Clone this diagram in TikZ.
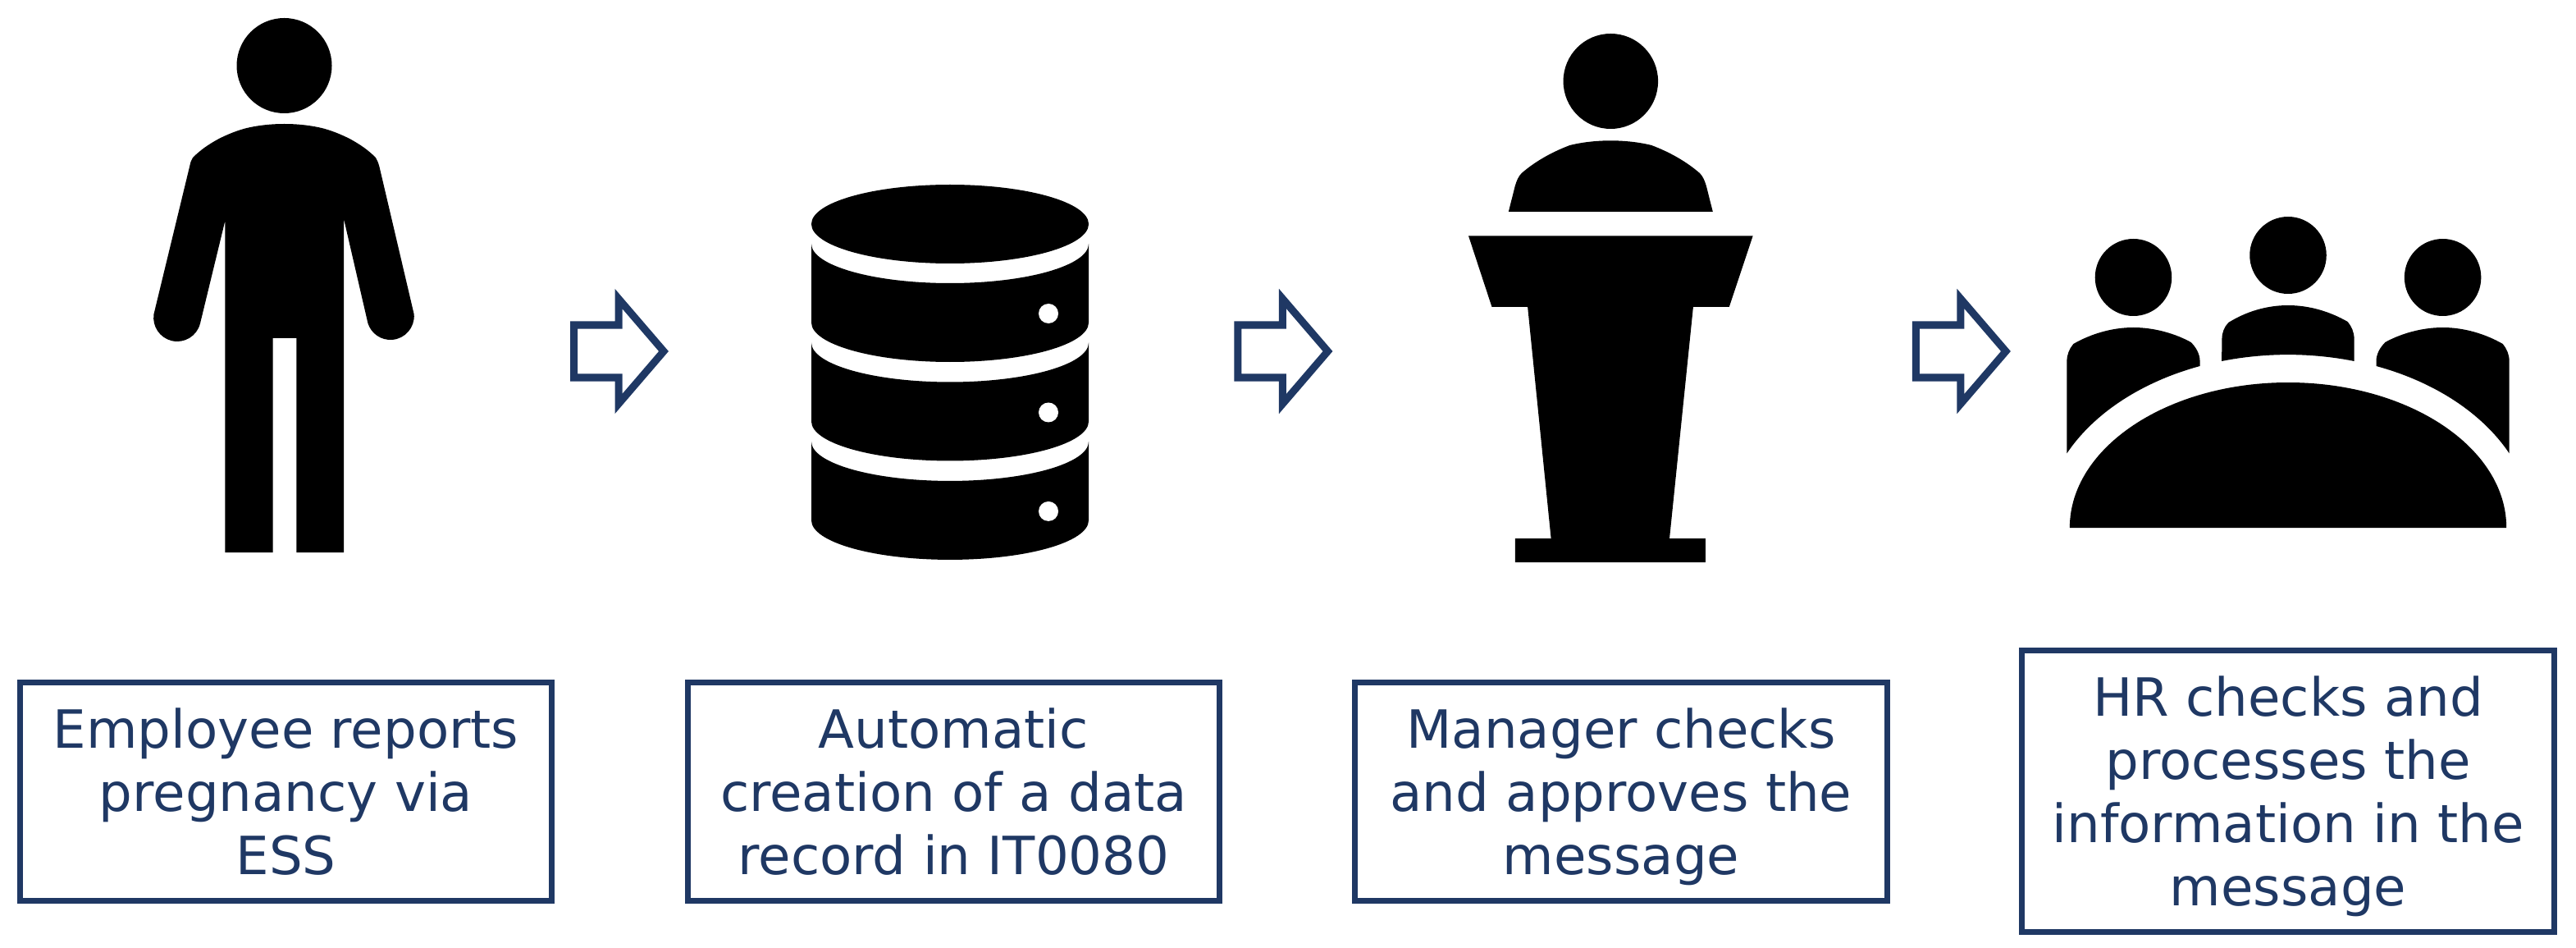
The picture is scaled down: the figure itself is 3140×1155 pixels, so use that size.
\documentclass[tikz,border=0pt]{standalone}
\usepackage{fontspec}
\setmainfont{DejaVu Sans}
\usetikzlibrary{calc}
\definecolor{navy}{HTML}{1F3864}
\newcommand{\firstline}{\rule{0pt}{20.45pt}}
\tikzset{
    msgbox/.style={draw=navy, line width=0.07cm, text=navy, align=center, inner sep=0pt,
        minimum width=6.48cm, minimum height=2.655cm,
        font=\fontsize{18.25pt}{21.9pt}\selectfont},
    flowarrow/.style={draw=navy, line width=0.09cm, miter limit=10},
    icon/.style={fill=black}
}
\begin{document}
\begin{tikzpicture}[x=0.01cm, y=-0.01cm]
    \useasboundingbox (0,0) rectangle (3140,1155);
    % standing figure
    \fill[icon] (346.5,80) circle[radius=58];
    \begin{scope}[xshift=3.465cm, xscale=0.995, xshift=-3.47cm]
    \fill[icon] (347,151) .. controls (365,151) and (380,153) .. (393,156) .. controls (405,159) and (417,164) .. (427,169)
        .. controls (440,176) and (450,183) .. (459,192) .. controls (461,195) and (462,198) .. (463.5,203)
        -- (506,383) arc[start angle=-4, end angle=162, radius=29] -- (420,267) -- (420,673) -- (362,673) -- (362,412)
        -- (333,412) -- (333,673) -- (274.5,673) -- (274.5,269) -- (244,394) arc[start angle=14, end angle=188, radius=29]
        -- (231,203) .. controls (232,198) and (233,195) .. (235,192) .. controls (244,183) and (254,176) .. (267,169)
        .. controls (277,164) and (289,159) .. (301,156) .. controls (314,153) and (329,151) .. (347,151) -- cycle;
    \end{scope}
    % database
    \def \rx {169}
    \def \ry {48}
    \fill[icon] (1158,273) ellipse[x radius=\rx, y radius=\ry];
    \foreach \s in {0,1,2}{
    \begin{scope}[yshift={-\s*1.204cm}]
        \fill[icon] (989,297) arc[start angle=180, end angle=0, x radius=\rx, y radius=\ry]
            -- (1327,393) arc[start angle=0, end angle=180, x radius=\rx, y radius=\ry] -- cycle;
        \fill[white] (1278,382) circle[radius=12];
    \end{scope}}
    % speaker at the lectern
    \begin{scope}[xshift=19.633cm, xscale=0.996, xshift=-19.66cm]
    \fill[icon] (1966,99) circle[radius=58];
    \fill[icon] (1841,258) -- (1849,226.5) .. controls (1851,220) and (1853,215) .. (1857,211)
        .. controls (1872,198) and (1892,186) .. (1916,177) .. controls (1932,173) and (1950,171.3) .. (1966,171.3)
        .. controls (1982,171.3) and (2000,173) .. (2016,177) .. controls (2040,186) and (2060,198) .. (2075,211)
        .. controls (2079,215) and (2081,220) .. (2083,226.5) -- (2091,258) -- cycle;
    \fill[icon] (1792,287.4) -- (2140,287.4) -- (2111,374) -- (2067,374) -- (2038,656) -- (2082,656) -- (2082,685)
        -- (1849,685) -- (1849,656) -- (1893,656) -- (1864.4,374) -- (1820.6,374) -- cycle;
    \end{scope}
    % people around the table
    \begin{scope}[shift={(2789,0)}, xscale=0.995]
        \fill[icon] (-267.5,643) arc[start angle=180, end angle=360, x radius=267.5, y radius=177] -- cycle;
        \fill[icon] (0,311) circle[radius=47];
        \fill[icon] (81,440) arc[start angle=-74.3, end angle=-105.7, x radius=300, y radius=211] -- (-81,413)
            .. controls (-81,405) and (-78,398) .. (-73,393) .. controls (-52,380) and (-27,372) .. (0,372)
            .. controls (27,372) and (52,380) .. (73,392) .. controls (78,398) and (81,405) .. (81,413) -- cycle;
        \foreach \m in {1,-1}{
        \begin{scope}[xscale=\m]
            \fill[icon] (-189.5,338) circle[radius=47];
            \fill[icon] (-108,446) arc[start angle=-111.1, end angle=-154.6, x radius=300, y radius=211] -- (-271,440)
                .. controls (-271,432) and (-268,425) .. (-263,419) .. controls (-242,407) and (-216,399) .. (-189.5,399)
                .. controls (-163,399) and (-137,407) .. (-119,417) .. controls (-113,423) and (-108,431) .. (-108,440) -- cycle;
        \end{scope}}
    \end{scope}
    % block arrows between the steps
    \foreach \dx in {0,8.09,16.35}{
    \draw[flowarrow, xshift=\dx cm] (699.5,396) -- (754,396) -- (754,364) -- (809,428) -- (754,492) -- (754,460) -- (699.5,460) -- cycle;}
    % text boxes
    \node[msgbox] (report) at (348.5,964.25) {\firstline Employee reports\\pregnancy via\\ESS\strut};
    \node[msgbox] (record) at (1162.5,964.25) {\firstline Automatic\\creation of a data\\record in IT0080\strut};
    \node[msgbox] (approve) at (1976,964.25) {\firstline Manager checks\\and approves the\\message\strut};
    \node[msgbox, minimum height=3.43cm] (process) at (2789,964) {\firstline HR checks and\\processes the\\information in the\\message\strut};
\end{tikzpicture}
\end{document}
